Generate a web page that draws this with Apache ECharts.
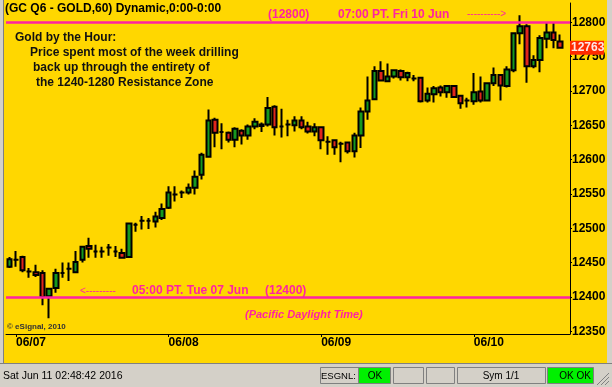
<!DOCTYPE html>
<html><head><meta charset="utf-8">
<script src="https://cdn.jsdelivr.net/npm/echarts@6.0.0/dist/echarts.min.js"></script>
<style>html,body{margin:0;padding:0;background:#d4d0c8}#c{width:612px;height:387px}</style>
</head><body><div id="c"></div>
<script>
// ---- data (hourly GC Q6 bars, price in 0.1 units) ----
const opens = [12444,12454,12458,12437,12436,12435,12401,12413,12435,12441,
  12436,12454,12474,12466,12466,12472,12466,12464,12458,12505,
  12511,12511,12510,12515,12530,12549,12552,12552,12559,12578,
  12604,12658,12640,12639,12629,12642,12635,12648,12649,12651,
  12677,12648,12651,12650,12657,12648,12641,12647,12626,12628,
  12623,12625,12612,12635,12670,12688,12729,12714,12721,12729,
  12720,12718,12719,12686,12695,12705,12698,12707,12693,12686,
  12685,12699,12686,12711,12723,12707,12730,12784,12794,12736,
  12745,12776,12785,12772];
const closes = [12455,12454,12439,12437,12432,12400,12412,12435,12435,12441,
  12451,12473,12470,12466,12466,12472,12466,12457,12507,12505,
  12511,12511,12517,12528,12552,12549,12552,12559,12575,12607,
  12657,12639,12640,12629,12645,12635,12648,12655,12651,12675,
  12647,12648,12651,12657,12647,12641,12647,12628,12626,12618,
  12623,12612,12635,12670,12686,12729,12715,12721,12730,12720,
  12726,12718,12685,12696,12704,12698,12707,12691,12682,12686,
  12698,12686,12711,12723,12708,12731,12784,12794,12736,12745,
  12777,12785,12774,12763];
const lows = [12442,12444,12436,12428,12429,12388,12369,12406,12428,12423,
  12435,12450,12457,12457,12457,12460,12458,12457,12458,12495,
  12498,12499,12501,12512,12528,12539,12544,12549,12549,12571,
  12604,12618,12615,12625,12618,12622,12629,12644,12640,12648,
  12635,12632,12634,12641,12644,12638,12634,12615,12607,12607,
  12596,12609,12603,12617,12658,12688,12714,12714,12718,12715,
  12714,12714,12683,12683,12683,12692,12690,12690,12674,12676,
  12680,12683,12686,12707,12686,12705,12727,12768,12712,12733,
  12727,12762,12762,12763];
const highs = [12458,12467,12460,12442,12447,12439,12413,12441,12450,12450,
  12467,12474,12486,12476,12473,12477,12474,12470,12508,12508,
  12518,12515,12524,12536,12561,12561,12555,12565,12584,12610,
  12673,12661,12653,12641,12647,12644,12651,12660,12654,12691,
  12679,12674,12658,12663,12663,12655,12653,12647,12634,12629,
  12626,12626,12639,12676,12721,12736,12743,12740,12731,12731,
  12728,12723,12720,12705,12707,12708,12708,12708,12693,12690,
  12726,12721,12712,12734,12724,12736,12785,12810,12797,12752,
  12781,12800,12799,12782];
const dayLabels = ['06/07','06/08','06/09','06/10'];
const dayStart = [1, 24, 47, 70];
const yTicks = [12350,12400,12450,12500,12550,12600,12650,12700,12750,12800];
const levelHigh = 12800;
const levelLow = 12400;

// categories: one slot per hourly bar plus one empty slot on the right
const categories = [];
for (let i = 0; i < opens.length + 1; i++) categories.push('bar' + i);
const candleData = opens.map((o, i) => [o, closes[i], lows[i], highs[i]]);
candleData.push(['-', '-', '-', '-']);
const lastPrice = closes[closes.length - 1];

const PINK = '#ff22a2';
const FONT = '"Liberation Sans", Arial, sans-serif';
function txt(text, x, y, o) {
  o = o || {};
  return {type: 'text', x: x, y: y, z: 20, silent: true,
    style: {text: text, fill: o.fill || '#111', textAlign: o.align || 'left', textVerticalAlign: 'middle',
      font: (o.font || 'bold 12px') + ' ' + FONT}};
}
function panel(x, w, fill) {
  return {type: 'rect', z: 5, silent: true, shape: {x: x + 0.5, y: 367.5, width: w, height: 16},
    style: {fill: fill, stroke: '#808080', lineWidth: 1}};
}

const graphics = [
  {type: 'rect', z: 4, silent: true, shape: {x: 0, y: 0, width: 3, height: 364}, style: {fill: '#d4d0c8'}},
  {type: 'line', z: 4, silent: true, shape: {x1: 3.5, y1: 0, x2: 3.5, y2: 364}, style: {stroke: '#808080', lineWidth: 1}},
  {type: 'rect', z: 4, silent: true, shape: {x: 607, y: 0, width: 5, height: 364}, style: {fill: '#d4d0c8'}},
  {type: 'rect', z: 4, silent: true, shape: {x: 0, y: 363, width: 612, height: 24}, style: {fill: '#d4d0c8'}},
  {type: 'line', z: 4, silent: true, shape: {x1: 0, y1: 363.5, x2: 612, y2: 363.5}, style: {stroke: '#808080', lineWidth: 1}},
  panel(320, 38, '#d4d0c8'), panel(358, 32, '#00f000'), panel(393, 30, '#d4d0c8'), panel(426, 28, '#d4d0c8'),
  panel(457, 88, '#d4d0c8'), panel(547, 46, '#00f000'),
  {type: 'line', z: 5, silent: true, shape: {x1: 597, y1: 385, x2: 609, y2: 373}, style: {stroke: '#808080', lineWidth: 1}},
  {type: 'line', z: 5, silent: true, shape: {x1: 601, y1: 385, x2: 609, y2: 377}, style: {stroke: '#808080', lineWidth: 1}},
  {type: 'line', z: 5, silent: true, shape: {x1: 605, y1: 385, x2: 609, y2: 381}, style: {stroke: '#808080', lineWidth: 1}},
  txt('Sat Jun 11 02:48:42 2016', 3, 376, {font: '10.5px', fill: '#000'}),
  txt('ESGNL:', 321, 376, {font: '9.5px', fill: '#000'}),
  txt('OK', 375, 376, {font: '10px', fill: '#000', align: 'center'}),
  txt('Sym 1/1', 501, 376, {font: '10px', fill: '#000', align: 'center'}),
  txt('OK OK', 591, 376, {font: '10px', fill: '#000', align: 'right'}),
  txt('(GC Q6 - GOLD,60) Dynamic,0:00-0:00', 5, 9, {fill: '#000'}),
  txt('Gold by the Hour:', 15, 38),
  txt('Price spent most of the week drilling', 30, 53),
  txt('back up through the entirety of', 33, 68),
  txt('the 1240-1280 Resistance Zone', 36, 83),
  txt('(12800)', 268, 15, {fill: PINK}),
  txt('07:00 PT. Fri 10 Jun', 338, 15, {fill: PINK}),
  txt('---------->', 467, 14, {fill: PINK, font: '10px'}),
  txt('<---------', 80, 291, {fill: PINK, font: '10px'}),
  txt('05:00 PT. Tue 07 Jun', 132, 291, {fill: PINK}),
  txt('(12400)', 265, 291, {fill: PINK}),
  txt('(Pacific Daylight Time)', 245, 315, {fill: PINK, font: 'italic bold 11px'}),
  txt('\u00a9 eSignal, 2010', 7, 327, {fill: '#333', font: 'bold 8px'})
];

const chart = echarts.init(document.getElementById('c'), null, {renderer: 'canvas'});
chart.setOption({
  animation: false,
  backgroundColor: '#ffd700',
  grid: {left: 6, right: 42, top: 3, bottom: 53},
  xAxis: {
    type: 'category', data: categories, boundaryGap: true,
    axisLine: {lineStyle: {color: '#000', width: 1}},
    axisTick: {show: true, alignWithLabel: true, length: 3, interval: (i) => dayStart.includes(i), lineStyle: {color: '#000'}},
    axisLabel: {interval: (i) => dayStart.includes(i), formatter: (v, i) => dayLabels[dayStart.indexOf(i)] || '',
      align: 'left', color: '#000', fontWeight: 'bold', fontSize: 12, fontFamily: FONT, margin: 3},
    splitLine: {show: false}
  },
  yAxis: {
    type: 'value', position: 'right', min: 12346, max: 12828,
    axisLine: {show: true, lineStyle: {color: '#000', width: 1}},
    axisTick: {show: true, length: 2, customValues: yTicks, lineStyle: {color: '#000'}},
    axisLabel: {customValues: yTicks, formatter: (v) => String(v), color: '#000', fontWeight: 'bold', fontSize: 12, fontFamily: FONT, margin: 2},
    splitLine: {show: false}
  },
  series: [{
    type: 'candlestick', data: candleData, barWidth: 5, clip: false,
    itemStyle: {color: '#17981f', color0: '#e0261c', borderColor: '#000', borderColor0: '#000', borderColorDoji: '#000', borderWidth: 2},
    markLine: {
      symbol: ['none', 'none'], silent: true, animation: false, label: {show: false},
      data: [
        {yAxis: levelHigh, lineStyle: {color: PINK, width: 2.5, type: 'solid'}},
        {yAxis: levelLow, lineStyle: {color: PINK, width: 2.5, type: 'solid'}}
      ]
    }
  }],
  graphic: graphics
});

// last-price tag on the right axis, placed through the axis scale
const py = chart.convertToPixel({yAxisIndex: 0}, lastPrice);
const gx = chart.convertToPixel({xAxisIndex: 0}, categories.length - 1) + 4;
graphics.push({type: 'rect', z: 30, silent: true, shape: {x: 570, y: py - 7, width: 34, height: 14}, style: {fill: '#ff2a00'}});
graphics.push({type: 'text', z: 31, silent: true, x: 571, y: py,
  style: {text: String(lastPrice), fill: '#ffe8e8', textVerticalAlign: 'middle', font: 'bold 12px ' + FONT}});
chart.setOption({graphic: graphics});
</script></body></html>
